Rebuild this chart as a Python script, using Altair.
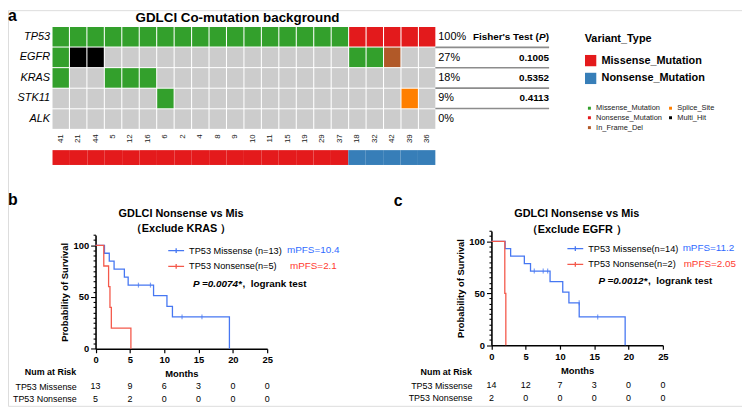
import altair as alt
import pandas as pd

FONT = "Liberation Sans"
W, H = 742, 400

# ---------------- panel a : oncoplot ----------------
samples = ["41", "21", "44", "5", "12", "16", "6", "2", "4", "8", "9", "10",
           "11", "15", "19", "29", "37", "18", "32", "42", "39", "36"]
genes = ["TP53", "EGFR", "KRAS", "STK11", "ALK"]
# M=Missense, N=Nonsense, F=In_Frame_Del, S=Splice_Site, H=Multi_Hit, .=none
tp53_codes = list("MMMMMMMMMMMMMMMMMNNNNN")
egfr_codes = list("MHH..............MMF..")
kras_codes = list("M..MMM................")
stk11_codes = list("......M.............S.")
alk_codes = list("......................")
group_codes = list("MMMMMMMMMMMMMMMMMNNNNN")
pct_labels = ["100%", "27%", "18%", "9%", "0%"]
fisher_p = ["", "0.1005", "0.5352", "0.4113", ""]

code_name = {"M": "Missense_Mutation", "N": "Nonsense_Mutation", "F": "In_Frame_Del",
             "S": "Splice_Site", "H": "Multi_Hit", ".": "None"}
variant_domain = ["Missense_Mutation", "Nonsense_Mutation", "In_Frame_Del",
                  "Splice_Site", "Multi_Hit", "None"]
variant_colors = ["#33A02C", "#E31A1C", "#B15928", "#FF7F00", "#000000", "#CCCCCC"]

# ---------------- panel b / c : KM ----------------
b_mis_t = [0, 1.3, 2.0, 2.7, 4.2, 4.75, 8.45, 10.4, 11.2, 19.5]
b_mis_s = [100, 92.3, 84.6, 76.9, 69.2, 61.5, 51.3, 41.0, 30.8, 0]
b_mis_ct = [6.25, 8.0, 12.6, 15.5]
b_mis_cs = [61.5, 61.5, 30.8, 30.8]
b_non_t = [0, 1.2, 1.9, 2.1, 2.3, 5.15]
b_non_s = [100, 80, 60, 40, 20, 0]
b_labels = ["TP53 Missense (n=13)", "TP53 Nonsense(n=5)"]
b_risk_mis = [13, 9, 6, 3, 0, 0]
b_risk_non = [5, 2, 0, 0, 0, 0]

c_mis_t = [0, 2.0, 2.8, 4.8, 5.7, 8.55, 10.4, 11.3, 12.8, 19.5]
c_mis_s = [100, 92.9, 85.7, 78.6, 71.4, 61.2, 51.0, 40.8, 27.2, 0]
c_mis_ct = [6.25, 7.55, 8.2, 12.8, 15.5]
c_mis_cs = [71.4, 71.4, 71.4, 40.8, 27.2]
c_non_t = [0, 1.95, 2.1]
c_non_s = [100, 50, 0]
c_labels = ["TP53 Missense(n=14)", "TP53 Nonsense(n=2)"]
c_risk_mis = [14, 12, 7, 3, 0, 0]
c_risk_non = [2, 0, 0, 0, 0, 0]

risk_months = [0, 5, 10, 15, 20, 25]
risk_rows = ["TP53 Missense", "TP53 Nonsense"]

BLUE = "#4677F2"
RED = "#F4594B"
BLUE_T = "#2F6BFF"
RED_T = "#FF3B30"

one = pd.DataFrame({"k": [0]})


def label(text, x, y, size, weight="normal", style="normal", align="left",
          color="black", baseline="alphabetic"):
    return alt.Chart(one).mark_text(
        text=text, fontSize=size, fontWeight=weight, fontStyle=style, align=align,
        baseline=baseline, color=color, font=FONT
    ).encode(x=alt.value(x), y=alt.value(y))


layers = []

# ---- oncoplot grid ----
code_rows = [tp53_codes, egfr_codes, kras_codes, stk11_codes, alk_codes]
grid_rows = []
for g, codes in zip(genes, code_rows):
    for s, c in zip(samples, codes):
        grid_rows.append({"gene": g, "sample": s, "variant": code_name[c]})
grid_df = pd.DataFrame(grid_rows)

GX = [45, 432]
GY = [17, 120]

grid = alt.Chart(grid_df).mark_rect().encode(
    x=alt.X("sample:N", sort=samples,
            scale=alt.Scale(domain=samples, range=GX, paddingInner=0.06, paddingOuter=0),
            axis=alt.Axis(orient="bottom", offset=-(H - GY[1]), title=None, ticks=False,
                          domain=False, labelAngle=270, labelFontSize=8, labelPadding=5,
                          labelColor="#222222", labelFont=FONT, grid=False)),
    y=alt.Y("gene:N", sort=genes,
            scale=alt.Scale(domain=genes, range=GY, paddingInner=0.05, paddingOuter=0),
            axis=alt.Axis(orient="left", offset=-GX[0], title=None, ticks=False,
                          domain=False, labelFontSize=11, labelFontStyle="italic",
                          labelPadding=3, labelColor="black", labelFont=FONT, grid=False)),
    color=alt.Color("variant:N",
                    scale=alt.Scale(domain=variant_domain, range=variant_colors),
                    legend=alt.Legend(title=None, orient="none", legendX=584, legendY=95,
                                      values=variant_domain[:5], columns=2,
                                      symbolType="square", symbolSize=9,
                                      symbolStrokeWidth=0, labelFontSize=7.5,
                                      labelColor="#222222", labelOffset=3,
                                      rowPadding=1, columnPadding=4, padding=0,
                                      labelFont=FONT)),
)
layers.append(grid)

# ---- annotation bar ----
annot_df = pd.DataFrame({"sample": samples, "track": ["Variant_Type"] * len(samples),
                         "group": [code_name[c] for c in group_codes]})
annot = alt.Chart(annot_df).mark_rect().encode(
    x=alt.X("sample:N", sort=samples,
            scale=alt.Scale(domain=samples, range=GX, paddingInner=0, paddingOuter=0),
            axis=None),
    y=alt.Y("track:N", scale=alt.Scale(domain=["Variant_Type"], range=[141.5, 156.5],
                                       paddingInner=0, paddingOuter=0), axis=None),
    color=alt.Color("group:N",
                    scale=alt.Scale(domain=["Missense_Mutation", "Nonsense_Mutation"],
                                    range=["#E41A1C", "#377EB8"]),
                    legend=alt.Legend(title="Variant_Type", orient="none", legendX=583,
                                      legendY=23, titleFontSize=11, titleFontWeight="bold",
                                      titleColor="black", titlePadding=11,
                                      labelFontSize=11, labelFontWeight="bold",
                                      labelColor="black", symbolType="square",
                                      symbolSize=130, symbolStrokeWidth=0,
                                      rowPadding=6, labelOffset=5, padding=0,
                                      titleFont=FONT, labelFont=FONT)),
)
layers.append(annot)

# ---- percentages / Fisher table ----
table_df = pd.DataFrame({"row": [i + 0.5 for i in range(len(genes))],
                         "pct": pct_labels, "fisher": fisher_p})
row_scale = alt.Scale(domain=[0, 5], range=GY, nice=False, zero=False)
layers.append(alt.Chart(table_df).mark_text(align="left", baseline="middle", fontSize=11,
                                            font=FONT, color="black").encode(
    x=alt.value(435), y=alt.Y("row:Q", scale=row_scale, axis=None), text="pct:N"))
layers.append(alt.Chart(table_df).mark_text(align="right", baseline="middle", fontSize=10,
                                            fontWeight="bold", font=FONT, color="black").encode(
    x=alt.value(547), y=alt.Y("row:Q", scale=row_scale, axis=None), text="fisher:N"))
sep_df = pd.DataFrame({"sep": [1, 2, 3, 4]})
layers.append(alt.Chart(sep_df).mark_rule(color="#8C8C8C", strokeWidth=1.6).encode(
    x=alt.value(432), x2=alt.value(547), y=alt.Y("sep:Q", scale=row_scale, axis=None)))
hdr_y = GY[0] + (GY[1] - GY[0]) / 10
layers.append(label(")", 547, hdr_y, 10, weight="bold", align="right", baseline="middle"))
layers.append(label("P", 543.4, hdr_y, 10, weight="bold", style="italic", align="right",
                    baseline="middle"))
layers.append(label("Fisher's Test (", 536.5, hdr_y, 10, weight="bold", align="right",
                    baseline="middle"))

# ---- titles for panel a ----
layers.append(label("a", 0, 11, 16, weight="bold"))
layers.append(label("GDLCI Co-mutation background", 232, 12, 13.5, weight="bold",
                    align="center"))


# ---------------- KM panels ----------------
def km_panel(px0, px1, py0, py100, mis_t, mis_s, ct, cs, non_t, non_s, labels,
             risk_mis, risk_non, leg_x, leg_y, risk_right, risk_y, num_y):
    out = []
    unit = (py0 - py100) / 100.0
    xs = alt.Scale(domain=[0, 25], range=[px0, px1], nice=False, zero=False)
    ys = alt.Scale(domain=[0, 110], range=[py0, py0 - 110 * unit], nice=False, zero=False)
    cscale = alt.Scale(domain=labels, range=[BLUE, RED])

    rows = []
    for t, s in zip(mis_t, mis_s):
        rows.append({"time": t, "surv": s, "grp": labels[0]})
    for t, s in zip(non_t, non_s):
        rows.append({"time": t, "surv": s, "grp": labels[1]})
    df = pd.DataFrame(rows)

    x_axis = alt.Axis(orient="bottom", offset=-(H - py0), values=risk_months, title="Months",
                      titleFontWeight="bold", titleFontSize=9.5, titleColor="black",
                      titlePadding=5, titleFont=FONT, labelFont=FONT,
                      labelFontSize=9.5, labelFontWeight="bold", labelColor="black",
                      labelFlush=False, labelOverlap=False, labelPadding=2,
                      tickColor="black", tickSize=4, tickWidth=1.2,
                      domainColor="black", domainWidth=1.6, grid=False, format="d")
    y_axis = alt.Axis(orient="left", offset=-px0, values=list(range(0, 111, 5)),
                      labelExpr="datum.value % 50 === 0 ? datum.label : ''",
                      tickSize={"condition": {"test": "datum.value % 50 === 0", "value": 5},
                                "value": 2.5},
                      title="Probability of Survival", titleFontWeight="bold",
                      titleFontSize=9.5, titleColor="black", titlePadding=3,
                      titleFont=FONT, labelFont=FONT,
                      labelFontSize=9.5, labelFontWeight="bold", labelColor="black",
                      labelFlush=False, labelOverlap=False, labelPadding=2,
                      tickColor="black", tickWidth=1.1, domainColor="black",
                      domainWidth=1.6, grid=False, format="d")

    out.append(alt.Chart(df).mark_line(interpolate="step-after", strokeWidth=1.3).encode(
        x=alt.X("time:Q", scale=xs, axis=x_axis),
        y=alt.Y("surv:Q", scale=ys, axis=y_axis),
        color=alt.Color("grp:N", scale=cscale,
                        legend=alt.Legend(title=None, orient="none", legendX=leg_x,
                                          legendY=leg_y,
                                          symbolType="M-1,0L1,0M0,-0.3L0,0.3",
                                          symbolSize=256, symbolStrokeWidth=1.3,
                                          labelFontSize=9.3, labelColor="black",
                                          labelOffset=4, rowPadding=1, padding=0,
                                          labelLimit=0, labelFont=FONT)),
    ))
    cdf = pd.DataFrame({"time": ct, "surv": cs, "grp": [labels[0]] * len(ct)})
    out.append(alt.Chart(cdf).mark_tick(orient="vertical", size=5, thickness=1.2).encode(
        x=alt.X("time:Q", scale=xs, axis=None),
        y=alt.Y("surv:Q", scale=ys, axis=None),
        color=alt.Color("grp:N", scale=cscale, legend=None),
    ))

    rrows = []
    for m, n in zip(risk_months, risk_mis):
        rrows.append({"month": m, "row": risk_rows[0], "n": n})
    for m, n in zip(risk_months, risk_non):
        rrows.append({"month": m, "row": risk_rows[1], "n": n})
    rdf = pd.DataFrame(rrows)
    out.append(alt.Chart(rdf).mark_text(fontSize=9, baseline="middle", align="center",
                                        font=FONT, color="black").encode(
        x=alt.X("month:Q", scale=xs, axis=None),
        y=alt.Y("row:N", sort=risk_rows,
                scale=alt.Scale(type="point", domain=risk_rows, range=risk_y, padding=0),
                axis=alt.Axis(orient="left", offset=-risk_right, domain=False, ticks=False,
                              labelPadding=0, labelFontSize=9, labelColor="black",
                              labelFont=FONT, title=None, grid=False)),
        text="n:Q",
    ))
    out.append(label("Num at Risk", risk_right, num_y, 9, weight="bold", align="right",
                     baseline="middle"))
    return out


layers += km_panel(88.5, 262, 342.3, 237.7, b_mis_t, b_mis_s, b_mis_ct, b_mis_cs,
                   b_non_t, b_non_s, b_labels, b_risk_mis, b_risk_non,
                   161, 234, 69, [380.3, 392.7], 366)
layers += km_panel(488.7, 662, 338.7, 233.7, c_mis_t, c_mis_s, c_mis_ct, c_mis_cs,
                   c_non_t, c_non_s, c_labels, c_risk_mis, c_risk_non,
                   564.5, 232, 469, [379.3, 392], 366)

LOGRANK = ",\u00a0\u00a0logrank test"

# panel b texts
layers.append(label("b", 0, 197, 16, weight="bold"))
layers.append(label("GDLCI Nonsense vs Mis", 175, 209, 11, weight="bold", align="center"))
layers.append(label("（Exclude KRAS ）", 175, 224, 11, weight="bold", align="center"))
layers.append(label("mPFS=10.4", 282, 242, 10, color=BLUE_T, baseline="middle"))
layers.append(label("mPFS=2.1", 285, 259, 10, color=RED_T, baseline="middle"))
layers.append(label("P =0.0074*", 187, 277, 10, weight="bold", style="italic",
                    baseline="middle"))
layers.append(label(LOGRANK, 237, 277, 10, weight="bold", baseline="middle"))

# panel c texts
layers.append(label("c", 390, 198, 16, weight="bold"))
layers.append(label("GDLCI Nonsense vs Mis", 575, 209, 11, weight="bold", align="center"))
layers.append(label("（Exclude EGFR ）", 575, 225, 11, weight="bold", align="center"))
layers.append(label("mPFS=11.2", 682, 240, 10, color=BLUE_T, baseline="middle"))
layers.append(label("mPFS=2.05", 683, 257, 10, color=RED_T, baseline="middle"))
layers.append(label("P =0.0012*", 597, 274, 10, weight="bold", style="italic",
                    baseline="middle"))
layers.append(label(LOGRANK, 647, 274, 10, weight="bold", baseline="middle"))

chart = alt.layer(*layers).properties(
    width=W, height=H, autosize=alt.AutoSizeParams(type="none"), padding=0
).resolve_scale(
    x="independent", y="independent", color="independent"
).resolve_legend(color="independent").configure_view(stroke=None).configure(font=FONT)

chart.save("out.html", embed_options={"renderer": "svg", "actions": False})
